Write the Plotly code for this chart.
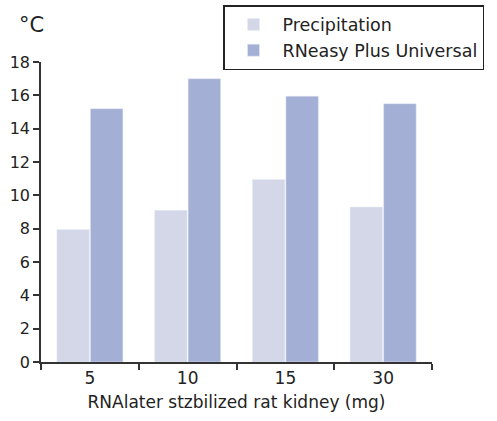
import plotly.graph_objects as go

categories = ["5", "10", "15", "30"]
precipitation = [7.95, 9.1, 10.95, 9.3]
rneasy = [15.2, 17.0, 15.95, 15.5]
y_ticks = [0, 2, 4, 6, 8, 10, 12, 14, 16, 18]

FONT = "DejaVu Sans"
TXT = "#222222"

fig = go.Figure()
fig.add_trace(go.Bar(x=categories, y=precipitation, name="Precipitation",
                     marker=dict(color="#d4d7e8")))
fig.add_trace(go.Bar(x=categories, y=rneasy, name="RNeasy Plus Universal",
                     marker=dict(color="#a3afd4")))

fig.update_layout(
    width=497, height=421,
    margin=dict(l=41, r=65, t=62, b=59, autoexpand=False),
    paper_bgcolor="white", plot_bgcolor="white",
    barmode="group", bargap=0.314, bargroupgap=0.03,
    font=dict(family=FONT, size=17, color=TXT),
    showlegend=True,
    legend=dict(x=0.4655, y=1.19, xanchor="left", yanchor="top",
                bordercolor="#222222", borderwidth=1.5,
                font=dict(size=17.5, color=TXT), itemwidth=48,
                bgcolor="white"),
    xaxis=dict(type="category", range=[-0.5, 3.5], showline=True,
               linecolor="#333333", linewidth=1.5, ticks="outside",
               tickson="boundaries", ticklen=6, tickwidth=1.5,
               tickcolor="#333333", showgrid=False, automargin=False,
               tickfont=dict(size=17, color=TXT),
               title=dict(text="RNAlater stzbilized rat kidney (mg)",
                          font=dict(size=17, color=TXT), standoff=9)),
    yaxis=dict(range=[0, 18], tickvals=y_ticks, showline=True,
               linecolor="#333333", linewidth=1.5, ticks="outside",
               ticklen=6, tickwidth=1.5, tickcolor="#333333",
               showgrid=False, zeroline=False, automargin=False,
               tickfont=dict(size=16, color=TXT)),
    annotations=[dict(text="°C", xref="paper", yref="paper",
                      x=-0.024, y=1.123, xanchor="center", yanchor="middle",
                      showarrow=False, font=dict(size=21, color=TXT))],
)

fig.write_html("out.html",
               config={"displayModeBar": False},
               post_script="document.body.style.margin='0';document.body.style.padding='0';")
